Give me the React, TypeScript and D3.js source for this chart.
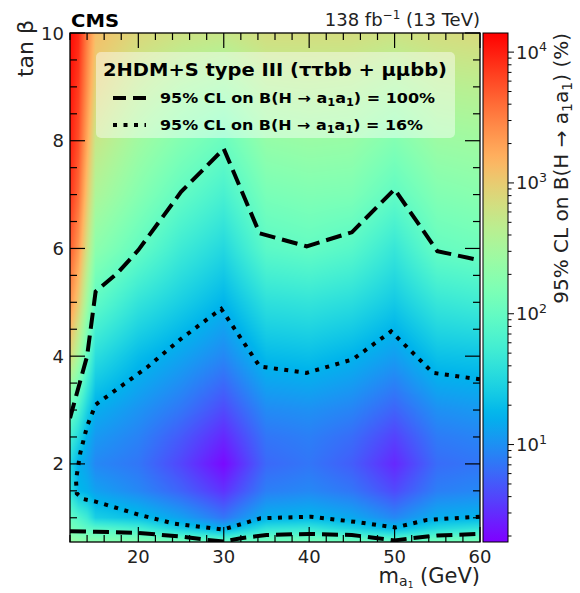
import React, { useMemo } from "react";
import * as d3 from "d3";

// ---------------- data ----------------
const MASS = [12, 13, 14, 15, 20, 25, 30, 35, 40, 45, 50, 55, 60];
const TANB = [0.55, 0.8, 1.0, 1.5, 2.0, 2.5, 3.0, 4.0, 5.0, 6.0, 7.0, 8.0, 9.0, 10.0];
// log10 of the 95% CL limit on B(H->a1a1) in %, one array per mass point (along TANB)
const logLimitM12 = [2.4, 2.15, 2.0, 1.6, 1.5, 1.75, 2.05, 2.9, 3.4, 3.7, 3.9, 4.0, 4.05, 4.1];
const logLimitM13 = [2.35, 2.05, 1.85, 1.25, 1.2, 1.5, 1.8, 2.5, 3.0, 3.35, 3.6, 3.75, 3.85, 3.95];
const logLimitM14 = [2.3, 1.95, 1.7, 1.2, 1.1, 1.2, 1.45, 2.0, 2.45, 2.8, 3.05, 3.25, 3.4, 3.5];
const logLimitM15 = [2.28, 1.9, 1.42, 1.1, 0.95, 1.05, 1.18, 1.55, 1.95, 2.3, 2.55, 2.75, 2.95, 3.1];
const logLimitM20 = [2.25, 1.75, 1.3, 0.95, 0.85, 0.92, 1.02, 1.28, 1.62, 2.0, 2.25, 2.45, 2.68, 2.9];
const logLimitM25 = [2.14, 1.4, 1.1, 0.75, 0.6, 0.7, 0.85, 1.12, 1.42, 1.7, 1.98, 2.22, 2.5, 2.8];
const logLimitM30 = [2.02, 1.18, 0.85, 0.5, 0.3, 0.45, 0.62, 0.95, 1.23, 1.5, 1.78, 2.04, 2.4, 2.75];
const logLimitM35 = [2.12, 1.6, 1.2, 0.9, 0.78, 0.85, 0.97, 1.27, 1.58, 1.93, 2.15, 2.36, 2.6, 2.85];
const logLimitM40 = [2.15, 1.65, 1.24, 0.95, 0.85, 0.9, 1.0, 1.3, 1.62, 1.99, 2.2, 2.4, 2.62, 2.85];
const logLimitM45 = [2.12, 1.45, 1.15, 0.85, 0.72, 0.8, 0.93, 1.22, 1.55, 1.9, 2.18, 2.38, 2.6, 2.85];
const logLimitM50 = [2.03, 1.25, 0.95, 0.62, 0.45, 0.58, 0.75, 1.08, 1.38, 1.65, 1.97, 2.22, 2.5, 2.8];
const logLimitM55 = [2.13, 1.5, 1.18, 0.9, 0.8, 0.88, 1.0, 1.32, 1.65, 2.01, 2.22, 2.42, 2.62, 2.85];
const logLimitM60 = [2.18, 1.62, 1.22, 0.95, 0.85, 0.93, 1.05, 1.34, 1.72, 2.07, 2.27, 2.45, 2.65, 2.88];

// 100% contour (dashed), upper branch and lower branch
const dashedUpperMass = [12, 14, 15, 17.6, 20, 25, 30, 34.2, 39.7, 45, 50, 55, 60];
const dashedUpperTanb = [2.85, 4.0, 5.2, 5.55, 5.97, 7.05, 7.85, 6.28, 6.04, 6.3, 7.1, 5.95, 5.78];
const dashedLowerMass = [12, 15, 20, 25, 28, 30, 32, 35, 40, 45, 48, 50, 52, 55, 60];
const dashedLowerTanb = [0.75, 0.74, 0.72, 0.65, 0.59, 0.56, 0.62, 0.68, 0.7, 0.68, 0.62, 0.58, 0.62, 0.67, 0.7];
// 16% contour (dotted)
const dottedMass = [60, 54.5, 49.6, 45.1, 39.7, 34.2, 29.7, 24.9, 21, 15, 14, 13.2, 12.7, 12.8, 13.5, 15, 20, 24.2, 29.9, 34.3, 40.2, 45.6, 50.1, 53.8, 60];
const dottedTanb = [3.57, 3.69, 4.46, 3.94, 3.69, 3.81, 4.88, 4.31, 3.79, 3.1, 2.7, 2.2, 1.7, 1.45, 1.35, 1.3, 1.06, 0.89, 0.78, 0.99, 1.02, 0.92, 0.82, 0.96, 1.02];

const xTicks = [20, 30, 40, 50, 60];
const yTicks = [2, 4, 6, 8, 10];
const cTicks = [10, 100, 1000, 10000];

// ---------------- layout ----------------
const W = 580;
const H = 593;
const P = { left: 70, right: 480, top: 33, bottom: 542 };
const CB = { left: 483, right: 508 };
const FONT = "'DejaVu Sans', Verdana, sans-serif";

const xScale = d3.scaleLinear().domain([12, 60]).range([P.left, P.right]);
const yScale = d3.scaleLinear().domain([0.55, 10]).range([P.bottom, P.top]);
const cScale = d3.scaleLog().domain([1.8, 14000]).range([P.bottom, P.top]);

function rainbow(t: number): [number, number, number] {
  const u = Math.max(0, Math.min(1, t));
  const r = Math.min(1, Math.abs(2 * u - 0.5));
  const g = Math.sin(Math.PI * u);
  const b = Math.cos((Math.PI * u) / 2);
  return [r * 255, g * 255, b * 255];
}
const lmin = Math.log10(1.8);
const lmax = Math.log10(14000);
const colorOfLog = (l: number) => rainbow((l - lmin) / (lmax - lmin));

const TABLE = [
  logLimitM12, logLimitM13, logLimitM14, logLimitM15, logLimitM20, logLimitM25, logLimitM30,
  logLimitM35, logLimitM40, logLimitM45, logLimitM50, logLimitM55, logLimitM60,
];

function locate(arr: number[], v: number): [number, number] {
  let i = d3.bisectRight(arr, v) - 1;
  i = Math.max(0, Math.min(arr.length - 2, i));
  const f = Math.max(0, Math.min(1, (v - arr[i]) / (arr[i + 1] - arr[i])));
  return [i, f];
}
function valueAt(m: number, tb: number) {
  const [i, fx] = locate(MASS, m);
  const [j, fy] = locate(TANB, tb);
  const a = TABLE[i][j], b = TABLE[i + 1][j], c = TABLE[i][j + 1], d = TABLE[i + 1][j + 1];
  return (a * (1 - fx) + b * fx) * (1 - fy) + (c * (1 - fx) + d * fx) * fy;
}

function Sup({ base, sup, size }: { base: string; sup: string; size: number }) {
  return (
    <>
      <tspan>{base}</tspan>
      <tspan dy={-size * 0.42} fontSize={size * 0.7}>{sup}</tspan>
    </>
  );
}

export default function App() {
  const heat = useMemo(() => {
    const w = P.right - P.left;
    const h = P.bottom - P.top;
    const canvas = document.createElement("canvas");
    canvas.width = w;
    canvas.height = h;
    const ctx = canvas.getContext("2d")!;
    const img = ctx.createImageData(w, h);
    for (let y = 0; y < h; y++) {
      const tb = yScale.invert(P.top + y + 0.5);
      for (let x = 0; x < w; x++) {
        const m = xScale.invert(P.left + x + 0.5);
        const [r, g, b] = colorOfLog(valueAt(m, tb));
        const k = (y * w + x) * 4;
        img.data[k] = r;
        img.data[k + 1] = g;
        img.data[k + 2] = b;
        img.data[k + 3] = 255;
      }
    }
    ctx.putImageData(img, 0, 0);
    return canvas.toDataURL();
  }, []);

  const line = d3
    .line<[number, number]>()
    .x((d) => xScale(d[0]))
    .y((d) => yScale(d[1]));
  const dashedUpper = line(dashedUpperMass.map((m, i) => [m, dashedUpperTanb[i]]));
  const dashedLower = line(dashedLowerMass.map((m, i) => [m, dashedLowerTanb[i]]));
  const dotted = line(dottedMass.map((m, i) => [m, dottedTanb[i]]));

  const xMinor = d3.range(12, 60.01, 2).filter((v) => !xTicks.includes(v));
  const yMinor = d3.range(1, 10.01, 0.5).filter((v) => !yTicks.includes(v));
  const cMinor: number[] = [];
  for (let e = 0; e < 5; e++)
    for (let k = 2; k <= 9; k++) {
      const v = k * Math.pow(10, e);
      if (v >= 1.8 && v <= 14000) cMinor.push(v);
    }
  const gradStops = d3.range(0, 1.0001, 0.02);

  const MAJ = 15, MIN = 7;
  const tickColor = "#000";
  const labelColor = "#222";

  return (
    <svg width={W} height={H} style={{ display: "block", position: "absolute", left: 0, top: 0 }} fontFamily={FONT}>
      <defs>
        <clipPath id="plotclip">
          <rect x={P.left} y={P.top} width={P.right - P.left} height={P.bottom - P.top} />
        </clipPath>
        <linearGradient id="cbgrad" x1="0" y1="1" x2="0" y2="0">
          {gradStops.map((t) => {
            const [r, g, b] = rainbow(t);
            return <stop key={t} offset={t} stopColor={`rgb(${r | 0},${g | 0},${b | 0})`} />;
          })}
        </linearGradient>
      </defs>
      <rect width={W} height={H} fill="#fff" />
      <image href={heat} x={P.left} y={P.top} width={P.right - P.left} height={P.bottom - P.top} preserveAspectRatio="none" />

      <g clipPath="url(#plotclip)" fill="none" stroke="#000" strokeWidth={4}>
        <path d={dashedUpper!} strokeDasharray="16 7" />
        <path d={dashedLower!} strokeDasharray="16 7" />
        <path d={dotted!} strokeDasharray="4 6.5" />
      </g>

      {/* ticks */}
      <g stroke={tickColor} strokeWidth={1.2}>
        {xTicks.map((v) => (
          <g key={"xt" + v}>
            <line x1={xScale(v)} x2={xScale(v)} y1={P.bottom} y2={P.bottom - MAJ} />
            <line x1={xScale(v)} x2={xScale(v)} y1={P.top} y2={P.top + MAJ} />
          </g>
        ))}
        {xMinor.map((v) => (
          <g key={"xm" + v}>
            <line x1={xScale(v)} x2={xScale(v)} y1={P.bottom} y2={P.bottom - MIN} />
            <line x1={xScale(v)} x2={xScale(v)} y1={P.top} y2={P.top + MIN} />
          </g>
        ))}
        {yTicks.map((v) => (
          <g key={"yt" + v}>
            <line x1={P.left} x2={P.left + MAJ} y1={yScale(v)} y2={yScale(v)} />
            <line x1={P.right} x2={P.right - MAJ} y1={yScale(v)} y2={yScale(v)} />
          </g>
        ))}
        {yMinor.map((v) => (
          <g key={"ym" + v}>
            <line x1={P.left} x2={P.left + MIN} y1={yScale(v)} y2={yScale(v)} />
            <line x1={P.right} x2={P.right - MIN} y1={yScale(v)} y2={yScale(v)} />
          </g>
        ))}
      </g>
      <rect x={P.left} y={P.top} width={P.right - P.left} height={P.bottom - P.top} fill="none" stroke="#000" strokeWidth={1.3} />

      {/* legend */}
      <rect x={96} y={52} width={359} height={86} rx={5} fill="#fff" fillOpacity={0.45} />
      <text x={103} y={76} fontSize={18} fontWeight="bold" textLength={344} lengthAdjust="spacingAndGlyphs">
        2HDM+S type III (ττbb + μμbb)
      </text>
      <line x1={113} x2={146} y1={98} y2={98} stroke="#000" strokeWidth={4} strokeDasharray="13 7" />
      <text x={160} y={103} fontSize={14} fontWeight="bold" textLength={275} lengthAdjust="spacingAndGlyphs">
        <tspan>95% CL on B(H → a</tspan>
        <tspan dy={3} fontSize={10}>1</tspan>
        <tspan dy={-3}>a</tspan>
        <tspan dy={3} fontSize={10}>1</tspan>
        <tspan dy={-3}>) = 100%</tspan>
      </text>
      <line x1={113} x2={146} y1={125} y2={125} stroke="#000" strokeWidth={4} strokeDasharray="4 6.5" />
      <text x={160} y={130} fontSize={14} fontWeight="bold" textLength={263} lengthAdjust="spacingAndGlyphs">
        <tspan>95% CL on B(H → a</tspan>
        <tspan dy={3} fontSize={10}>1</tspan>
        <tspan dy={-3}>a</tspan>
        <tspan dy={3} fontSize={10}>1</tspan>
        <tspan dy={-3}>) = 16%</tspan>
      </text>

      {/* axis labels */}
      <g fill={labelColor} fontSize={18}>
        {xTicks.map((v) => (
          <text key={"xl" + v} x={xScale(v)} y={563} textAnchor="middle">{v}</text>
        ))}
        {yTicks.map((v) => (
          <text key={"yl" + v} x={64} y={yScale(v) + 6.5} textAnchor="end">{v}</text>
        ))}
      </g>

      <text x={480} y={583} fontSize={21} textAnchor="end" fill={labelColor}>
        <tspan>m</tspan>
        <tspan dy={3} fontSize={14}>a</tspan>
        <tspan dy={2} fontSize={9}>1</tspan>
        <tspan dy={-5}> (GeV)</tspan>
      </text>
      <text transform="translate(33,20) rotate(-90)" fontSize={22} textAnchor="end" fill={labelColor}>
        tan β
      </text>

      {/* header */}
      <text x={71} y={27} fontSize={18} fontWeight="bold" textLength={48} lengthAdjust="spacingAndGlyphs">CMS</text>
      <text x={480} y={26} fontSize={18} textAnchor="end" fill={labelColor}>
        <tspan>138 fb</tspan>
        <tspan dy={-7} fontSize={12}>−1</tspan>
        <tspan dy={7}> (13 TeV)</tspan>
      </text>

      {/* colorbar */}
      <rect x={CB.left} y={P.top} width={CB.right - CB.left} height={P.bottom - P.top} fill="url(#cbgrad)" stroke="#000" strokeWidth={1} />
      <g stroke="#000" strokeWidth={1}>
        {cTicks.map((v) => (
          <line key={"ct" + v} x1={CB.right} x2={CB.right + 6} y1={cScale(v)} y2={cScale(v)} />
        ))}
        {cMinor.map((v) => (
          <line key={"cm" + v} x1={CB.right} x2={CB.right + 3.5} y1={cScale(v)} y2={cScale(v)} />
        ))}
      </g>
      <g fill={labelColor} fontSize={18}>
        {cTicks.map((v) => (
          <text key={"cl" + v} x={516} y={cScale(v) + 6.5}>
            <Sup base="10" sup={String(Math.round(Math.log10(v)))} size={18} />
          </text>
        ))}
      </g>
      <text transform="translate(568,33) rotate(-90)" fontSize={20} textAnchor="end" fill={labelColor}>
        <tspan>95% CL on B(H → a</tspan>
        <tspan dy={4} fontSize={14}>1</tspan>
        <tspan dy={-4}>a</tspan>
        <tspan dy={4} fontSize={14}>1</tspan>
        <tspan dy={-4}>) (%)</tspan>
      </text>
    </svg>
  );
}
